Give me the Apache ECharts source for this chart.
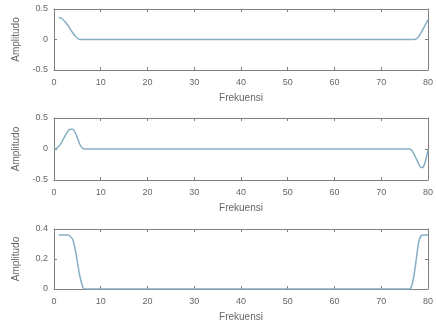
<!DOCTYPE html>
<html>
<head>
<meta charset="utf-8">
<script src="https://cdn.jsdelivr.net/npm/echarts@6/dist/echarts.min.js"></script>
<style>
  html, body { margin: 0; padding: 0; background: #fff; }
  #chart { width: 436px; height: 329px; }
</style>
</head>
<body>
<div id="chart"></div>
<script>
// Real part of the spectrum
var freq1 = [1, 1.5, 2, 2.5, 3, 3.5, 4, 4.5, 5, 5.5, 6, 76.5, 77, 77.5, 78, 78.5, 79, 79.5, 80];
var amp1  = [0.36, 0.35, 0.32, 0.28, 0.23, 0.17, 0.11, 0.06, 0.02, 0, 0, 0, 0, 0.01, 0.05, 0.11, 0.18, 0.25, 0.32];

// Imaginary part of the spectrum
var freq2 = [0, 0.5, 1, 1.5, 2, 2.5, 3, 3.5, 4, 4.5, 5, 5.5, 6, 6.5, 75.5, 76, 76.5, 77, 77.5, 78, 78.5, 79, 79.5, 80];
var amp2  = [0, 0.01, 0.04, 0.09, 0.16, 0.23, 0.29, 0.32, 0.32, 0.27, 0.18, 0.08, 0.02, 0, 0, 0, -0.02, -0.08, -0.16, -0.24, -0.3, -0.29, -0.18, -0.02];

// Magnitude of the spectrum
var freq3 = [1, 2, 3, 3.5, 4, 4.5, 5, 5.5, 6, 6.5, 76, 76.5, 77, 77.5, 78, 78.5, 79, 80];
var amp3  = [0.36, 0.36, 0.36, 0.35, 0.33, 0.27, 0.18, 0.09, 0.03, 0, 0, 0.02, 0.09, 0.2, 0.31, 0.355, 0.36, 0.36];

var xTicks = [0, 10, 20, 30, 40, 50, 60, 70, 80];
var yRanges = [
  { min: -0.5, max: 0.5, interval: 0.5 },
  { min: -0.5, max: 0.5, interval: 0.5 },
  { min: 0, max: 0.4, interval: 0.2 }
];
var panels = [
  { f: freq1, a: amp1 },
  { f: freq2, a: amp2 },
  { f: freq3, a: amp3 }
];

var axisColor = '#808080';
var textColor = '#666';
var lineColor = '#86afc4';
var fontFamily = 'Liberation Sans, Arial, sans-serif';

var grids = [
  { left: 54, right: 3, top: 9, height: 61 },
  { left: 54, right: 3, top: 118, height: 62 },
  { left: 54, right: 3, top: 229, height: 60 }
];

var xAxes = [], yAxes = [], series = [];
grids.forEach(function (g, i) {
  var lineStyle = { color: axisColor, width: 1 };
  xAxes.push({
    type: 'value', gridIndex: i, position: 'bottom',
    min: xTicks[0], max: xTicks[xTicks.length - 1], interval: 10,
    name: 'Frekuensi', nameLocation: 'middle', nameGap: 23,
    nameTextStyle: { color: textColor, fontSize: 10, fontFamily: fontFamily },
    axisLine: { show: true, onZero: false, lineStyle: lineStyle },
    axisTick: { show: true, inside: true, length: 3, lineStyle: lineStyle },
    axisLabel: { color: textColor, fontSize: 9, fontFamily: fontFamily, margin: 8 },
    splitLine: { show: false }
  });
  xAxes.push({
    type: 'value', gridIndex: i, position: 'top',
    min: xTicks[0], max: xTicks[xTicks.length - 1], interval: 10,
    axisLine: { show: true, onZero: false, lineStyle: lineStyle },
    axisTick: { show: true, inside: true, length: 3, lineStyle: lineStyle },
    axisLabel: { show: false },
    splitLine: { show: false }
  });
  var r = yRanges[i];
  yAxes.push({
    type: 'value', gridIndex: i, position: 'left',
    min: r.min, max: r.max, interval: r.interval,
    name: 'Amplitudo', nameLocation: 'middle', nameGap: 33,
    nameTextStyle: { color: textColor, fontSize: 10, fontFamily: fontFamily },
    axisLine: { show: true, onZero: false, lineStyle: lineStyle },
    axisTick: { show: true, inside: true, length: 3, lineStyle: lineStyle },
    axisLabel: { color: textColor, fontSize: 9, fontFamily: fontFamily, margin: 6 },
    splitLine: { show: false }
  });
  yAxes.push({
    type: 'value', gridIndex: i, position: 'right',
    min: r.min, max: r.max, interval: r.interval,
    axisLine: { show: true, onZero: false, lineStyle: lineStyle },
    axisTick: { show: true, inside: true, length: 3, lineStyle: lineStyle },
    axisLabel: { show: false },
    splitLine: { show: false }
  });
  var p = panels[i];
  series.push({
    type: 'line', xAxisIndex: i * 2, yAxisIndex: i * 2,
    data: p.f.map(function (f, k) { return [f, p.a[k]]; }),
    smooth: 0.3, showSymbol: false, silent: true,
    lineStyle: { color: lineColor, width: 1.5 }
  });
});

var chart = echarts.init(document.getElementById('chart'));
chart.setOption({
  animation: false,
  backgroundColor: '#fff',
  grid: grids,
  xAxis: xAxes,
  yAxis: yAxes,
  series: series
});
</script>
</body>
</html>
